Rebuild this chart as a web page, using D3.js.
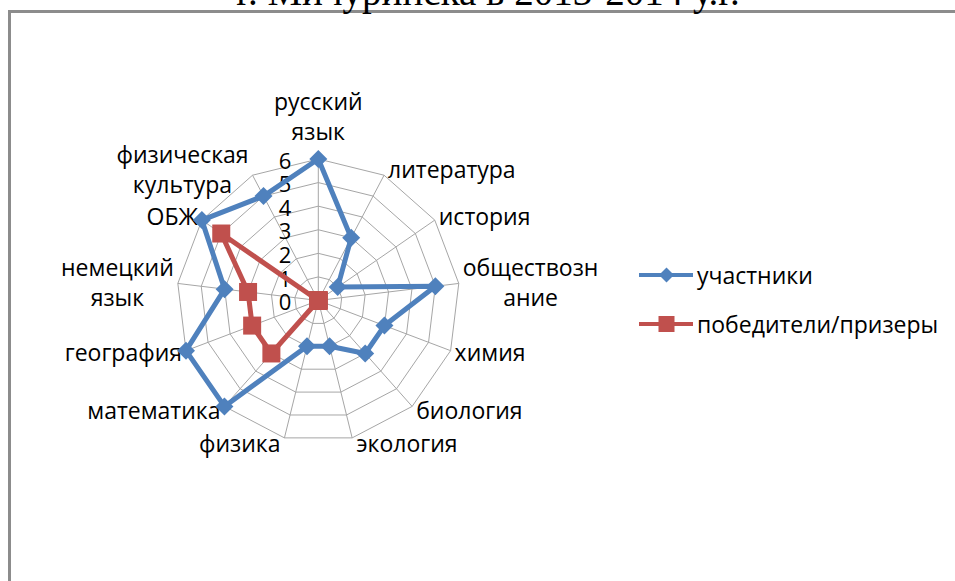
<!DOCTYPE html>
<html><head><meta charset="utf-8">
<script src="https://cdn.jsdelivr.net/npm/d3@7"></script>
<style>body{margin:0;background:#fff;overflow:hidden} svg{display:block}</style>
</head><body>
<svg id="chart" width="955" height="581"></svg>
<script>
// ---- data ----
const categories = ["русский\nязык","литература","история","обществозн\nание","химия","биология","экология","физика","математика","география","немецкий\nязык","ОБЖ","физическая\nкультура"];
const participants = [6,3,1,5,3,3,2,2,6,6,4,6,5];
const winners = [0,0,0,0,0,0,0,0,3,3,3,5,0];
const tickValues = [0,1,2,3,4,5,6];
const seriesNames = ["участники","победители/призеры"];
const seriesColors = ["#4F81BD","#C0504D"];
const titleText = "г. Мичуринска в 2013-2014 у.г.";

// ---- layout ----
const svg = d3.select("#chart");
const cx = 318.3, cy = 300.5, R = 141.5;
const FONT = "'Open Sans', sans-serif";
const FS = 23;

// frame
svg.append("rect").attr("x",9.5).attr("y",11.5).attr("width",1000).attr("height",700)
  .attr("fill","none").attr("stroke","#8c8c8c").attr("stroke-width",3);

// title (clipped at top, as in the reference)
svg.append("text").attr("x",488).attr("y",5).attr("text-anchor","middle")
  .attr("font-family","'Liberation Serif', 'Times New Roman', serif").attr("font-size",39)
  .attr("fill","#000").text(titleText);

const r = d3.scaleLinear().domain([0,6]).range([0,R]);
const a = d3.scaleBand().domain(categories).range([0,2*Math.PI]).paddingInner(0).paddingOuter(0);

const g = svg.append("g").attr("transform",`translate(${cx},${cy})`);

// grid rings
tickValues.filter(v=>v>0).forEach(v=>{
  g.append("path")
   .attr("d", d3.lineRadial().angle(d=>a(d)).radius(()=>r(v)).curve(d3.curveLinearClosed)(categories))
   .attr("fill","none").attr("stroke","#a6a6a6").attr("stroke-width",1);
});
// spokes
categories.forEach(c=>{
  const t = a(c);
  g.append("line").attr("x1",0).attr("y1",0)
   .attr("x2", r(6)*Math.sin(t)).attr("y2", -r(6)*Math.cos(t))
   .attr("stroke","#a6a6a6").attr("stroke-width",1);
});

// tick labels
g.selectAll("text.tick").data(tickValues).join("text").attr("class","tick")
  .attr("x",-27).attr("y",d=>-r(d)+2).attr("dy","0.35em").attr("text-anchor","end")
  .attr("font-family",FONT).attr("font-size",22).attr("fill","#000").text(d=>d);

// category labels
categories.forEach(c=>{
  const t = a(c), s = Math.sin(t), co = Math.cos(t);
  const vx = r(6)*s, vy = -r(6)*co;
  const lines = c.split("\n");
  const lh = 30;
  const txt = g.append("text").attr("font-family",FONT).attr("font-size",FS).attr("fill","#000");
  const spans = lines.map(l=>txt.append("tspan").text(l));
  const w = d3.max(spans, sp=>sp.node().getComputedTextLength());
  let x, yc;
  if (Math.abs(s) < 0.1) {
    x = vx;
    yc = vy - 12 - lines.length*lh/2;
  } else {
    x = s>0 ? vx + 4 + w/2 : vx - 4 - w/2;
    yc = vy - co*6;
  }
  spans.forEach((sp,i)=>{
    sp.attr("x",x).attr("y", yc + (i - (lines.length-1)/2)*lh).attr("dy","0.35em").attr("text-anchor","middle");
  });
});

// series
const seriesData = [participants, winners];
seriesData.forEach((vals,si)=>{
  const pts = categories.map((c,i)=>({c, v: vals[i]}));
  g.append("path")
   .attr("d", d3.lineRadial().angle(d=>a(d.c)).radius(d=>r(d.v)).curve(d3.curveLinearClosed)(pts))
   .attr("fill","none").attr("stroke",seriesColors[si]).attr("stroke-width",5).attr("stroke-linejoin","round");
  pts.forEach(d=>{
    const t=a(d.c), x=r(d.v)*Math.sin(t), y=-r(d.v)*Math.cos(t);
    if(si===0){
      const sz=9;
      g.append("path").attr("d",`M${x},${y-sz}L${x+sz},${y}L${x},${y+sz}L${x-sz},${y}Z`).attr("fill",seriesColors[0]);
    } else {
      g.append("rect").attr("x",x-9).attr("y",y-9).attr("width",18).attr("height",18).attr("fill",seriesColors[1]);
    }
  });
});

// legend
const legY = [275, 324];
seriesNames.forEach((n,i)=>{
  const y = legY[i];
  svg.append("line").attr("x1",639).attr("x2",693).attr("y1",y).attr("y2",y)
    .attr("stroke",seriesColors[i]).attr("stroke-width",4);
  const mx = 666.5;
  if(i===0){
    const sz=7.5;
    svg.append("path").attr("d",`M${mx},${y-sz}L${mx+sz},${y}L${mx},${y+sz}L${mx-sz},${y}Z`).attr("fill",seriesColors[0]);
  } else {
    svg.append("rect").attr("x",mx-8).attr("y",y-8).attr("width",16).attr("height",16).attr("fill",seriesColors[1]);
  }
  svg.append("text").attr("x",697).attr("y",y+1).attr("dy","0.35em")
    .attr("font-family",FONT).attr("font-size",FS).attr("fill","#000").text(n);
});
</script>
</body></html>
